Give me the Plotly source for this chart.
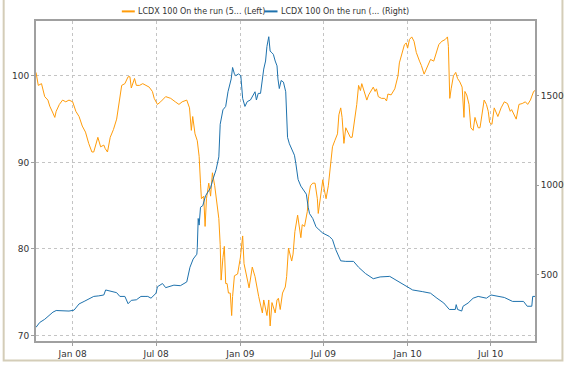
import plotly.graph_objects as go

# LCDX 100 on-the-run index: price (left axis) and spread (right axis)
price_dates = [
    "2007-10-13", "2007-10-18", "2007-10-25", "2007-11-01", "2007-11-08", "2007-11-12",
    "2007-11-19", "2007-11-23", "2007-11-26", "2007-12-03", "2007-12-10", "2007-12-17",
    "2007-12-24", "2008-01-01", "2008-01-08", "2008-01-15", "2008-01-22", "2008-01-29",
    "2008-02-05", "2008-02-12", "2008-02-16", "2008-02-19", "2008-02-25", "2008-03-02",
    "2008-03-09", "2008-03-12", "2008-03-17", "2008-03-23", "2008-03-30", "2008-04-06",
    "2008-04-11", "2008-04-17", "2008-04-24", "2008-05-01", "2008-05-05", "2008-05-08",
    "2008-05-15", "2008-05-19", "2008-05-26", "2008-06-02", "2008-06-09", "2008-06-16",
    "2008-06-23", "2008-06-27", "2008-07-04", "2008-07-11", "2008-07-22", "2008-08-02",
    "2008-08-12", "2008-08-20", "2008-08-27", "2008-09-06", "2008-09-12", "2008-09-16",
    "2008-09-19", "2008-09-24", "2008-09-29", "2008-10-03", "2008-10-06", "2008-10-08",
    "2008-10-13", "2008-10-16", "2008-10-19", "2008-10-24", "2008-10-28", "2008-11-01",
    "2008-11-06", "2008-11-11", "2008-11-15", "2008-11-18", "2008-11-20", "2008-11-24",
    "2008-11-27", "2008-11-30", "2008-12-03", "2008-12-06", "2008-12-10", "2008-12-13",
    "2008-12-15", "2008-12-19", "2008-12-26", "2009-01-01", "2009-01-06", "2009-01-09",
    "2009-01-15", "2009-01-20", "2009-01-27", "2009-02-02", "2009-02-10", "2009-02-18",
    "2009-02-21", "2009-02-25", "2009-02-28", "2009-03-04", "2009-03-07", "2009-03-11",
    "2009-03-18", "2009-03-22", "2009-03-25", "2009-03-29", "2009-04-03", "2009-04-09",
    "2009-04-12", "2009-04-16", "2009-04-19", "2009-04-23", "2009-04-26", "2009-04-30",
    "2009-05-06", "2009-05-09", "2009-05-13", "2009-05-16", "2009-05-21", "2009-05-27",
    "2009-05-30", "2009-06-03", "2009-06-08", "2009-06-13", "2009-06-18", "2009-06-20",
    "2009-06-26", "2009-06-30", "2009-07-03", "2009-07-07", "2009-07-12", "2009-07-16",
    "2009-07-21", "2009-07-26", "2009-08-01", "2009-08-04", "2009-08-08", "2009-08-11",
    "2009-08-15", "2009-08-19", "2009-08-22", "2009-08-26", "2009-08-29", "2009-09-02",
    "2009-09-05", "2009-09-12", "2009-09-16", "2009-09-20", "2009-09-23", "2009-09-27",
    "2009-10-04", "2009-10-08", "2009-10-15", "2009-10-18", "2009-10-22", "2009-10-25",
    "2009-10-29", "2009-11-05", "2009-11-12", "2009-11-16", "2009-11-19", "2009-11-26",
    "2009-12-04", "2009-12-11", "2009-12-14", "2009-12-20", "2009-12-25", "2009-12-29",
    "2010-01-01", "2010-01-05", "2010-01-10", "2010-01-15", "2010-01-20", "2010-01-27",
    "2010-01-31", "2010-02-06", "2010-02-09", "2010-02-16", "2010-02-20", "2010-02-27",
    "2010-03-03", "2010-03-06", "2010-03-10", "2010-03-13", "2010-03-17", "2010-03-24",
    "2010-03-29", "2010-03-31", "2010-04-03", "2010-04-06", "2010-04-11", "2010-04-16",
    "2010-04-20", "2010-04-25", "2010-04-30", "2010-05-04", "2010-05-06", "2010-05-10",
    "2010-05-15", "2010-05-19", "2010-05-24", "2010-05-28", "2010-05-31", "2010-06-04",
    "2010-06-08", "2010-06-11", "2010-06-17", "2010-06-22", "2010-06-26", "2010-06-29",
    "2010-07-04", "2010-07-09", "2010-07-14", "2010-07-17", "2010-07-24", "2010-07-31",
    "2010-08-07", "2010-08-13", "2010-08-16", "2010-08-21", "2010-08-26", "2010-09-01",
    "2010-09-08", "2010-09-15", "2010-09-20", "2010-09-26", "2010-09-29", "2010-10-03",
    "2010-10-06",
]
price_values = [
    100.4, 98.9, 99.1, 97.6, 97.2, 96.5,
    95.7, 95.2, 95.9, 96.7, 97.2, 97.0,
    97.2, 97.0, 95.9, 95.3, 94.2, 93.5,
    92.2, 91.2, 91.2, 91.8, 92.9, 91.8,
    92.0, 91.6, 91.2, 92.9, 93.8, 95.0,
    96.8, 98.9, 99.1, 99.9, 99.9, 98.6,
    99.7, 98.9, 98.9, 99.1, 98.9, 98.7,
    98.2, 97.4, 96.7, 97.0, 97.6, 97.4,
    97.0, 96.7, 97.0, 97.2, 96.3, 93.7,
    95.3, 93.3, 92.5, 90.7, 87.6, 85.8,
    86.1, 82.6, 85.8, 87.6, 86.1, 88.8,
    87.3, 85.4, 83.5, 80.5, 76.4, 79.0,
    80.3, 76.0, 76.0, 74.9, 74.9, 72.3,
    74.5, 76.9, 77.1, 79.0, 81.5, 78.3,
    76.6, 75.5, 77.9, 76.8, 74.5, 72.6,
    74.1, 73.0, 72.3, 74.1, 71.1, 73.8,
    72.6, 74.1, 74.3, 73.0, 74.9, 75.6,
    76.8, 80.1, 79.4, 78.6, 79.4, 82.0,
    83.9, 82.8, 81.3, 82.8, 82.6, 84.3,
    86.1, 87.3, 87.6, 87.6, 85.8, 84.1,
    86.5, 88.0, 86.9, 85.8, 87.3, 89.2,
    91.8, 92.5, 93.3, 95.5, 96.3, 95.2,
    92.2, 94.0, 93.7, 93.3, 92.9, 92.9,
    94.0, 96.7, 98.9, 98.3, 99.1, 98.3,
    97.2, 97.8, 98.5, 98.7, 98.2, 98.5,
    97.6, 97.4, 97.4, 97.1, 97.9, 97.8,
    98.5, 100.0, 101.5, 102.7, 103.6, 103.8,
    103.2, 104.2, 104.5, 104.0, 102.7, 101.7,
    101.2, 100.2, 100.6, 101.4, 101.9, 101.7,
    102.5, 102.8, 103.6, 103.8, 104.0, 104.2,
    104.5, 103.4, 97.4, 98.5, 100.0, 100.4,
    99.7, 99.3, 98.7, 95.2, 98.2, 97.8,
    96.7, 94.0, 93.7, 95.2, 94.6, 94.0,
    94.0, 95.2, 97.2, 96.7, 95.9, 94.6,
    94.4, 96.3, 95.7, 95.3, 96.3, 97.0,
    96.8, 95.9, 96.1, 95.5, 95.0, 96.7,
    96.8, 97.0, 96.7, 97.2, 97.6, 98.2,
    98.3,
]

spread_dates = [
    "2007-10-13", "2007-10-21", "2007-11-01", "2007-11-12", "2007-11-19", "2007-11-26",
    "2007-12-10", "2007-12-24", "2008-01-04", "2008-01-15", "2008-01-26", "2008-02-05",
    "2008-02-16", "2008-02-27", "2008-03-09", "2008-03-13", "2008-03-23", "2008-03-30",
    "2008-04-06", "2008-04-13", "2008-04-24", "2008-05-01", "2008-05-08", "2008-05-19",
    "2008-05-29", "2008-06-09", "2008-06-13", "2008-06-20", "2008-07-01", "2008-07-04",
    "2008-07-15", "2008-07-22", "2008-07-29", "2008-08-09", "2008-08-23", "2008-08-30",
    "2008-09-06", "2008-09-13", "2008-09-20", "2008-09-28", "2008-09-29", "2008-10-01",
    "2008-10-03", "2008-10-06", "2008-10-11", "2008-10-17", "2008-10-22", "2008-10-28",
    "2008-11-02", "2008-11-09", "2008-11-15", "2008-11-18", "2008-11-24", "2008-11-30",
    "2008-12-05", "2008-12-08", "2008-12-12", "2008-12-15", "2008-12-19", "2008-12-22",
    "2008-12-28", "2009-01-02", "2009-01-06", "2009-01-11", "2009-01-16", "2009-01-23",
    "2009-01-31", "2009-02-02", "2009-02-05", "2009-02-09", "2009-02-14", "2009-02-18",
    "2009-02-21", "2009-02-25", "2009-02-28", "2009-03-04", "2009-03-07", "2009-03-11",
    "2009-03-14", "2009-03-18", "2009-03-22", "2009-03-24", "2009-03-27", "2009-03-31",
    "2009-04-05", "2009-04-10", "2009-04-12", "2009-04-14", "2009-04-18", "2009-04-23",
    "2009-04-29", "2009-05-02", "2009-05-07", "2009-05-13", "2009-05-20", "2009-05-25",
    "2009-05-29", "2009-06-01", "2009-06-08", "2009-06-15", "2009-06-22", "2009-06-30",
    "2009-07-14", "2009-07-21", "2009-07-28", "2009-08-08", "2009-08-19", "2009-09-05",
    "2009-09-16", "2009-10-01", "2009-10-18", "2009-11-02", "2009-11-23", "2009-12-07",
    "2009-12-29", "2010-01-12", "2010-02-02", "2010-02-20", "2010-03-06", "2010-03-21",
    "2010-04-02", "2010-04-15", "2010-04-17", "2010-04-20", "2010-04-29", "2010-05-02",
    "2010-05-13", "2010-05-24", "2010-06-04", "2010-06-22", "2010-07-02", "2010-07-17",
    "2010-07-31", "2010-08-18", "2010-09-11", "2010-09-19", "2010-09-29", "2010-10-01",
    "2010-10-06",
]
spread_values = [
    204, 231, 249, 276, 289, 298,
    295, 295, 300, 335, 349, 362,
    377, 380, 385, 413, 407, 404,
    398, 377, 377, 336, 355, 358,
    377, 377, 377, 367, 395, 431,
    449, 426, 431, 440, 437, 449,
    458, 540, 586, 613, 649, 813,
    776, 876, 885, 940, 958, 985,
    1031, 1086, 1158, 1340, 1421, 1440,
    1522, 1558, 1594, 1658, 1622, 1612,
    1622, 1612, 1485, 1440, 1467, 1476,
    1513, 1522, 1476, 1513, 1513, 1594,
    1649, 1694, 1776, 1830, 1749, 1740,
    1731, 1694, 1667, 1594, 1540, 1585,
    1576, 1522, 1413, 1267, 1231, 1203,
    1167, 1122, 1031, 994, 967, 949,
    876, 840, 813, 767, 749, 731,
    713, 695, 640, 576, 573, 573,
    540, 505, 476, 486, 489, 467,
    431, 413, 404, 395, 367, 340,
    304, 304, 331, 304, 295, 322,
    340, 367, 377, 367, 385, 377,
    371, 349, 349, 322, 322, 377,
    377,
]

left_ticks = [70, 80, 90, 100]
right_ticks = [500, 1000, 1500]
legend_labels = ["LCDX 100 On the run (5... (Left)", "LCDX 100 On the run (... (Right)"]

ORANGE = "#ff9c0a"
BLUE = "#1e72ad"
FONT = dict(family="DejaVu Sans", size=9, color="#333333")
LEGEND_FONT = dict(family="DejaVu Sans", size=8, color="#333333")

fig = go.Figure()
fig.add_trace(go.Scatter(
    x=price_dates, y=price_values, mode="lines", name=legend_labels[0],
    line=dict(color=ORANGE, width=1), yaxis="y", showlegend=False,
))
fig.add_trace(go.Scatter(
    x=spread_dates, y=spread_values, mode="lines", name=legend_labels[1],
    line=dict(color=BLUE, width=1), yaxis="y2", showlegend=False,
))

# compact legend drawn above the plot area
legend_items = [(0.172, ORANGE, legend_labels[0]), (0.458, BLUE, legend_labels[1])]
shapes = []
annotations = []
for x0, color, text in legend_items:
    shapes.append(dict(type="line", xref="paper", yref="paper",
                       x0=x0, x1=x0 + 0.026, y0=1.030, y1=1.030,
                       line=dict(color=color, width=2)))
    annotations.append(dict(xref="paper", yref="paper", x=x0 + 0.029, y=1.030,
                            text=text, showarrow=False, xanchor="left",
                            yanchor="middle", font=LEGEND_FONT))

# outer panel frame
shapes.append(dict(type="rect", xref="paper", yref="paper",
                   x0=-0.0648, x1=1.0550, y0=-0.0610, y1=1.08,
                   line=dict(color="#d4cdb8", width=2), layer="below"))

fig.update_layout(
    width=576, height=371,
    margin=dict(l=36, r=31, t=21, b=22),
    paper_bgcolor="white", plot_bgcolor="white",
    font=FONT,
    shapes=shapes, annotations=annotations,
    xaxis=dict(
        type="date", range=["2007-10-13", "2010-10-06"],
        tick0="2008-01-01", dtick="M6", tickformat="%b %y",
        showgrid=True, gridcolor="#c4c4c4", griddash="dot", gridwidth=1,
        showline=True, linecolor="#a0a0a0", linewidth=2, mirror=True,
        ticks="outside", ticklen=3, tickcolor="#a0a0a0",
        zeroline=False, tickfont=FONT,
    ),
    yaxis=dict(
        range=[69.36, 106.34], tickvals=left_ticks,
        showgrid=True, gridcolor="#c4c4c4", griddash="dot", gridwidth=1,
        showline=True, linecolor="#a0a0a0", linewidth=2, mirror=True,
        ticks="outside", ticklen=3, tickcolor="#a0a0a0",
        zeroline=False, tickfont=FONT,
    ),
    yaxis2=dict(
        range=[127.5, 1918], tickvals=right_ticks,
        overlaying="y", side="right", showgrid=False,
        ticks="outside", ticklen=3, tickcolor="#a0a0a0",
        zeroline=False, tickfont=FONT,
    ),
)

fig.write_html("out.html")
